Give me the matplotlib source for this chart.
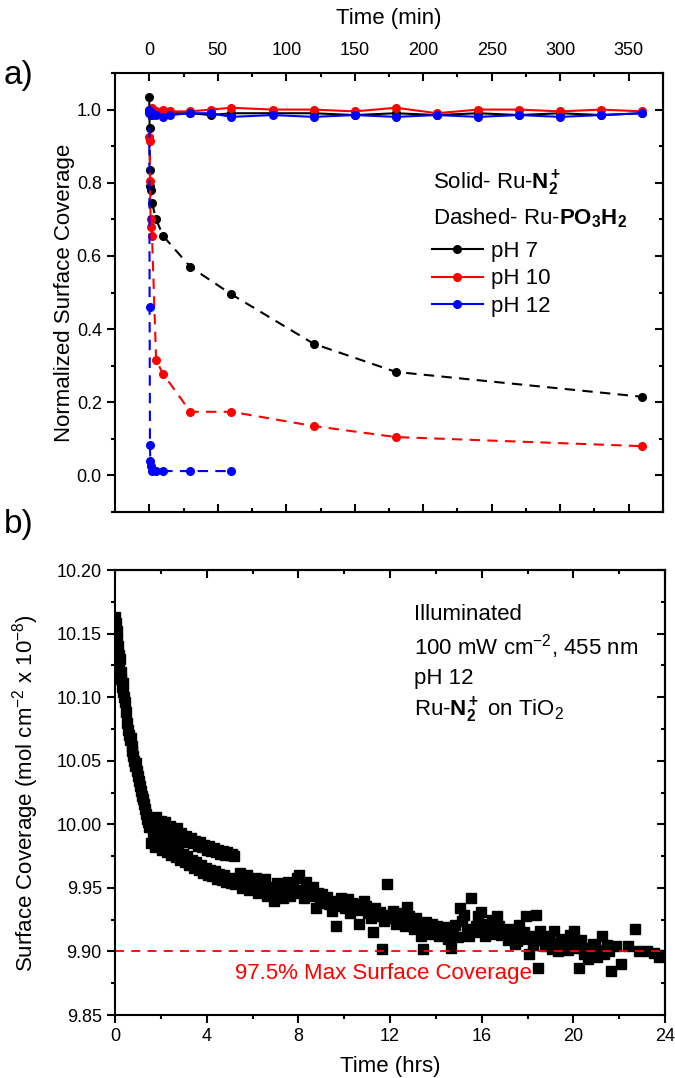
import matplotlib.pyplot as plt
from matplotlib.ticker import MultipleLocator

plt.rcParams['font.family'] = ['Liberation Sans', 'DejaVu Sans']
plt.rcParams['mathtext.fontset'] = 'custom'
plt.rcParams['mathtext.rm'] = 'Liberation Sans'
plt.rcParams['mathtext.it'] = 'Liberation Sans:italic'
plt.rcParams['mathtext.bf'] = 'Liberation Sans:bold'

# ---- a) stability in the dark, time in minutes ----
t_solid = [0, 1, 2, 5, 10, 15, 30, 45, 60, 90, 120, 150, 180, 210, 240, 270, 300, 330, 360]
n2_ph7 = [0.995, 0.99, 0.985, 0.99, 0.985, 0.99, 0.99, 0.985, 0.99, 0.99, 0.99, 0.985, 0.99, 0.985, 0.99, 0.985, 0.99, 0.985, 0.99]
n2_ph10 = [1.0, 0.995, 1.005, 0.995, 1.0, 0.995, 0.995, 1.0, 1.005, 1.0, 1.0, 0.995, 1.005, 0.99, 1.0, 1.0, 0.995, 1.0, 0.995]
n2_ph12 = [0.99, 0.985, 0.99, 0.985, 0.98, 0.985, 0.99, 0.99, 0.98, 0.985, 0.98, 0.985, 0.98, 0.985, 0.98, 0.985, 0.98, 0.985, 0.99]

t_po3_ph7 = [0, 0.25, 0.5, 0.75, 1, 2, 5, 10, 30, 60, 120, 180, 360]
po3_ph7 = [1.035, 0.95, 0.835, 0.79, 0.78, 0.745, 0.70, 0.655, 0.57, 0.495, 0.36, 0.283, 0.215]
t_po3_ph10 = [0, 0.25, 0.5, 1, 1.5, 2, 5, 10, 30, 60, 120, 180, 360]
po3_ph10 = [0.925, 0.915, 0.805, 0.70, 0.678, 0.655, 0.315, 0.278, 0.174, 0.174, 0.135, 0.105, 0.08]
t_po3_ph12 = [0, 0.25, 0.5, 0.75, 1, 2, 5, 10, 30, 60]
po3_ph12 = [1.0, 0.46, 0.083, 0.04, 0.025, 0.012, 0.012, 0.012, 0.012, 0.012]

# ---- b) illuminated run at pH 12, time in hours ----
t_hr = [0.02, 0.05, 0.08, 0.10, 0.13, 0.16, 0.19, 0.22, 0.25, 0.28, 0.31, 0.34, 0.37, 0.40,
        0.44, 0.48, 0.52, 0.56, 0.60, 0.64, 0.68, 0.72, 0.76, 0.80, 0.84, 0.88, 0.92, 0.96,
        1.00, 1.04, 1.08, 1.12, 1.16, 1.20, 1.25, 1.30, 1.35, 1.40, 1.45,
        1.50, 1.55, 1.60, 1.65, 1.70, 1.75, 1.80, 1.85, 1.90, 1.95, 2.00, 2.05, 2.10, 2.15,
        2.20, 2.25, 2.30, 2.35, 2.40, 2.45, 2.50, 2.55, 2.60, 2.65, 2.70, 2.75, 2.80, 2.85,
        2.90, 2.95, 3.00, 3.05, 3.10, 3.15, 3.20, 3.25, 3.30, 3.35, 3.40, 3.45, 3.50, 3.55,
        3.60, 3.65, 3.70, 3.75, 3.80, 3.85, 3.90, 3.95, 4.00, 4.05, 4.10, 4.15, 4.20, 4.25,
        4.30, 4.35, 4.40, 4.45, 4.50, 4.55, 4.60, 4.65, 4.70, 4.75, 4.80, 4.85, 4.90, 4.95,
        5.00, 5.05, 5.10, 5.15, 5.20, 5.25,
        5.35, 5.45, 5.55, 5.65, 5.75, 5.85, 5.95, 6.05, 6.15, 6.25, 6.35, 6.45, 6.55, 6.65,
        6.75, 6.85, 6.95, 7.05, 7.15, 7.25, 7.35, 7.45, 7.55, 7.65, 7.75, 7.85, 7.95,
        8.05, 8.15, 8.25, 8.35, 8.45, 8.55, 8.65, 8.75, 8.85, 8.95, 9.05, 9.15, 9.25, 9.35,
        9.45, 9.55, 9.65, 9.75, 9.85, 9.95, 10.05, 10.15, 10.25, 10.35, 10.45, 10.55, 10.65,
        10.75, 10.85, 10.95, 11.05, 11.15, 11.25, 11.35, 11.45, 11.55, 11.65, 11.75, 11.85,
        11.95, 12.05, 12.15, 12.25, 12.35, 12.45, 12.55, 12.65, 12.75, 12.85, 12.95, 13.05,
        13.15, 13.25, 13.35, 13.45, 13.55, 13.65, 13.75, 13.85, 13.95, 14.05, 14.15, 14.25,
        14.35, 14.45, 14.55, 14.65, 14.75, 14.85, 14.95, 15.05, 15.15, 15.25, 15.35, 15.45,
        15.55, 15.65, 15.75, 15.85, 15.95, 16.05, 16.15, 16.25, 16.35, 16.45, 16.55, 16.65,
        16.75, 16.85, 16.95, 17.05, 17.15, 17.25, 17.35, 17.45, 17.55, 17.65, 17.75, 17.85,
        17.95, 18.05, 18.15, 18.25, 18.35, 18.45, 18.55, 18.65, 18.75, 18.85, 18.95, 19.05,
        19.15, 19.25, 19.35, 19.45, 19.55, 19.65, 19.75, 19.85, 19.95, 20.05, 20.15, 20.25,
        20.35, 20.45, 20.55, 20.65, 20.75, 20.85, 20.95, 21.05, 21.15, 21.25, 21.35, 21.45,
        21.55, 21.65, 21.85, 22.10, 22.40, 22.70, 22.85, 23.20, 23.50, 23.75, 23.90]
coverage = [10.163, 10.158, 10.152, 10.146, 10.140, 10.133, 10.127, 10.130, 10.120, 10.114,
            10.108, 10.111, 10.104, 10.100, 10.096, 10.088, 10.080, 10.074, 10.070, 10.066,
            10.068, 10.062, 10.058, 10.054, 10.050, 10.046, 10.048, 10.042, 10.038, 10.034,
            10.030, 10.026, 10.022, 10.020, 10.016, 10.012, 10.008, 10.004, 10.002,
            9.998, 9.985, 10.004, 9.990, 10.000, 9.982, 10.006, 9.988, 9.996, 9.984, 10.003,
            9.980, 9.998, 9.986, 10.002, 9.978, 9.994, 9.983, 9.999, 9.976, 9.995, 9.981,
            9.992, 9.974, 9.997, 9.979, 9.990, 9.972, 9.993, 9.977, 9.988, 9.970, 9.991,
            9.975, 9.986, 9.968, 9.989, 9.972, 9.985, 9.966, 9.987, 9.970, 9.983, 9.964,
            9.986, 9.968, 9.982, 9.962, 9.984, 9.966, 9.980, 9.960, 9.983, 9.964, 9.979,
            9.959, 9.981, 9.963, 9.978, 9.957, 9.980, 9.961, 9.977, 9.956, 9.979, 9.960,
            9.976, 9.955, 9.978, 9.958, 9.976, 9.954, 9.977, 9.957, 9.975, 9.953,
            9.958, 9.962, 9.950, 9.956, 9.960, 9.948, 9.955, 9.952, 9.958, 9.946, 9.953,
            9.950, 9.957, 9.944, 9.951, 9.948, 9.940, 9.954, 9.946, 9.950, 9.942, 9.948,
            9.955, 9.944, 9.950, 9.946, 9.958,
            9.960, 9.948, 9.942, 9.955, 9.950, 9.944, 9.951, 9.934, 9.946, 9.940, 9.945,
            9.938, 9.943, 9.937, 9.932, 9.940, 9.920, 9.936, 9.942, 9.939, 9.934, 9.941,
            9.930, 9.938, 9.935, 9.937, 9.922, 9.933, 9.940, 9.936, 9.930, 9.926, 9.915,
            9.934, 9.928, 9.931, 9.902, 9.924, 9.953, 9.929, 9.926, 9.932, 9.922, 9.927,
            9.925, 9.930, 9.920, 9.935, 9.928, 9.924, 9.918, 9.926, 9.921, 9.912, 9.902,
            9.923, 9.919, 9.914, 9.922, 9.917, 9.920, 9.912, 9.915, 9.913, 9.919, 9.910,
            9.903, 9.916, 9.921, 9.911, 9.934, 9.924, 9.929, 9.918, 9.912, 9.942, 9.915,
            9.920, 9.928, 9.931, 9.917, 9.912, 9.922, 9.914, 9.925, 9.919, 9.928, 9.920,
            9.913, 9.916, 9.914, 9.909, 9.918, 9.912, 9.906, 9.908, 9.921, 9.910, 9.915,
            9.928, 9.898, 9.912, 9.905, 9.929, 9.887, 9.916, 9.909, 9.904, 9.908, 9.912,
            9.902, 9.916, 9.907, 9.900, 9.910, 9.904, 9.908, 9.901, 9.913, 9.906, 9.916,
            9.903, 9.887, 9.909, 9.898, 9.903, 9.894, 9.899, 9.906, 9.904, 9.896, 9.901,
            9.912, 9.898, 9.905, 9.900, 9.885, 9.904, 9.890, 9.904, 9.918, 9.900, 9.900,
            9.899, 9.896, 9.897]
max_cov_line = 9.90

fig = plt.figure(figsize=(6.75, 10.78), dpi=100)
ax1 = fig.add_axes([0.1704, 0.525, 0.8118, 0.4073])
ax2 = fig.add_axes([0.1704, 0.0584, 0.8148, 0.4128])

lw, ms = 1.5, 5.5
dash = (0, (5, 3.5))
for t, y, c in [(t_solid, n2_ph7, 'black'), (t_solid, n2_ph10, 'red'), (t_solid, n2_ph12, 'blue')]:
    ax1.plot(t, y, '-', color=c, marker='o', lw=lw, ms=ms)
for t, y, c in [(t_po3_ph7, po3_ph7, 'black'), (t_po3_ph10, po3_ph10, 'red'), (t_po3_ph12, po3_ph12, 'blue')]:
    ax1.plot(t, y, color=c, ls=dash, marker='o', lw=lw, ms=ms)

ax1.set_xlim(-25, 375)
ax1.set_ylim(-0.1, 1.1)
ax1.xaxis.set_major_locator(MultipleLocator(50))
ax1.xaxis.set_minor_locator(MultipleLocator(25))
ax1.yaxis.set_major_locator(MultipleLocator(0.2))
ax1.yaxis.set_minor_locator(MultipleLocator(0.1))
ax1.xaxis.set_label_position('top')
ax1.tick_params(axis='x', which='both', top=True, bottom=True, labeltop=True, labelbottom=False,
                direction='in', pad=10)
ax1.tick_params(axis='y', which='both', left=True, right=False, direction='out')
ax1.set_xlabel('Time (min)', fontsize=16, labelpad=13)
ax1.set_ylabel('Normalized Surface Coverage', fontsize=16, labelpad=1)

# legend built from plain line handles
h = [plt.Line2D([], [], color=c, marker='o', lw=lw, ms=ms) for c in ['black', 'red', 'blue']]
ax1.legend(h, ['pH 7', 'pH 10', 'pH 12'], loc='upper left', bbox_to_anchor=(0.562, 0.638),
           frameon=False, fontsize=16, handlelength=2.3, handletextpad=0.35, labelspacing=0.3,
           borderaxespad=0)
ax1.text(0.580, 0.749, r'Solid- Ru-$\mathbf{N_2^+}$', transform=ax1.transAxes, fontsize=16, va='center')
ax1.text(0.580, 0.670, r'Dashed- Ru-$\mathbf{PO_3H_2}$', transform=ax1.transAxes, fontsize=16, va='center')

ax2.plot(t_hr, coverage, 's', color='black', ms=7)
ax2.axhline(max_cov_line, color='red', ls=(0, (5, 4)), lw=1.3)
ax2.text(11.7, 9.883, '97.5% Max Surface Coverage', color='red', fontsize=16, ha='center', va='center')
ax2.set_xlim(0, 24)
ax2.set_ylim(9.85, 10.20)
ax2.xaxis.set_major_locator(MultipleLocator(4))
ax2.xaxis.set_minor_locator(MultipleLocator(2))
ax2.yaxis.set_major_locator(MultipleLocator(0.05))
ax2.yaxis.set_minor_locator(MultipleLocator(0.025))
ax2.yaxis.set_major_formatter(plt.FormatStrFormatter('%.2f'))
ax2.tick_params(axis='both', which='both', direction='out')
ax2.set_xlabel('Time (hrs)', fontsize=16, labelpad=8)
ax2.set_ylabel(r'Surface Coverage (mol cm$^{-2}$ x 10$^{-8}$)', fontsize=16, labelpad=11)

notes = ['Illuminated', r'100 mW cm$^{-2}$, 455 nm', 'pH 12', r'Ru-$\mathbf{N_2^+}$ on TiO$_2$']
for i, s in enumerate(notes):
    ax2.text(0.543, 0.90 - i * 0.072, s, transform=ax2.transAxes, fontsize=16, va='center')

# inward ticks on the opposite spines, without labels
for ax, side in [(ax1, 'right'), (ax2, 'right'), (ax2, 'top')]:
    if side == 'right':
        sec = ax.secondary_yaxis('right')
        sec.yaxis.set_major_locator(ax.yaxis.get_major_locator())
        sec.yaxis.set_minor_locator(ax.yaxis.get_minor_locator())
    else:
        sec = ax.secondary_xaxis('top')
        sec.xaxis.set_major_locator(ax.xaxis.get_major_locator())
        sec.xaxis.set_minor_locator(ax.xaxis.get_minor_locator())
    sec.tick_params(which='both', direction='in', width=1.5, labelleft=False, labelright=False,
                    labeltop=False, labelbottom=False)
    sec.tick_params(which='major', length=6)
    sec.tick_params(which='minor', length=3)
    for sp in sec.spines.values():
        sp.set_linewidth(1.5)

for ax in (ax1, ax2):
    for sp in ax.spines.values():
        sp.set_linewidth(1.5)
    ax.tick_params(which='both', width=1.5, labelsize=13)
    ax.tick_params(which='major', length=6)
    ax.tick_params(which='minor', length=3)

fig.text(0.005, 0.93, 'a)', fontsize=24, va='center')
fig.text(0.005, 0.513, 'b)', fontsize=24, va='center')

fig.savefig('out.png', dpi=100)
